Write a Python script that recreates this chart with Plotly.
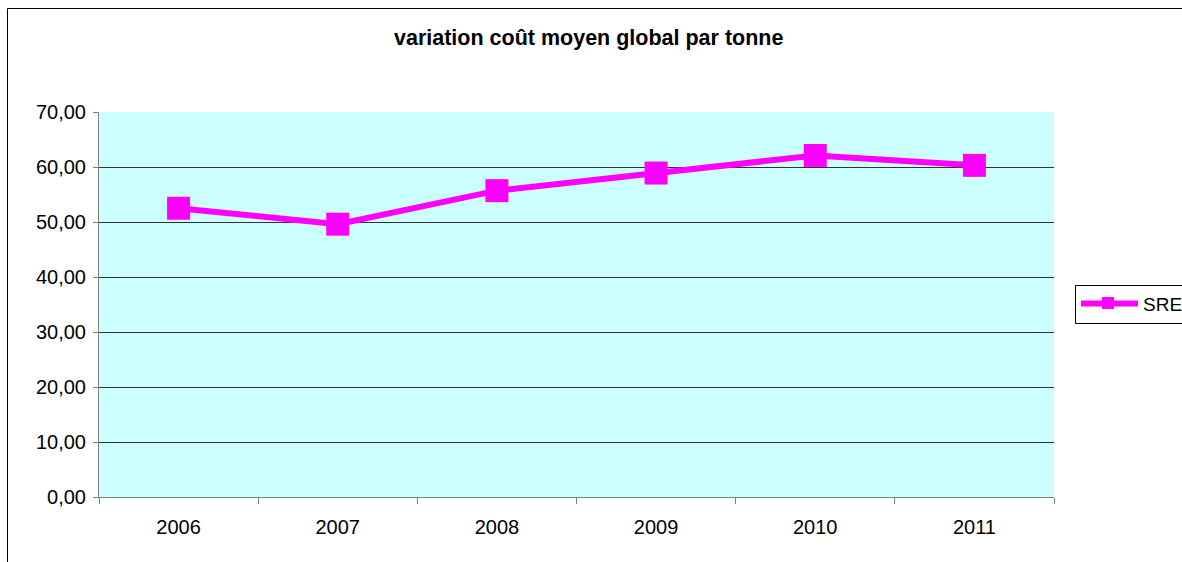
import plotly.graph_objects as go

years = ["2006", "2007", "2008", "2009", "2010", "2011"]
sre_values = [52.5, 49.6, 55.7, 58.9, 62.1, 60.3]
series_name = "SRE"
title_text = "variation coût moyen global par tonne"
y_ticks = [0, 10, 20, 30, 40, 50, 60, 70]

W, H = 1182, 562
L, R, T, B = 99, 1054, 112, 497
pw, ph = R - L, B - T

def px(x):
    return (x - L) / pw

def py(y):
    return (B - y) / ph

MAG = "#FF00FF"
FONT = "Liberation Sans, Arial, sans-serif"
FS = 20

fig = go.Figure()
fig.add_trace(go.Scatter(
    x=years, y=sre_values, mode="lines+markers", name=series_name,
    line=dict(color=MAG, width=6),
    marker=dict(symbol="square", size=23, color=MAG),
    showlegend=False,
))

shapes = [
    dict(type="rect", xref="paper", yref="paper", x0=px(7.5), y0=py(600), x1=px(1250), y1=py(8.5),
         line=dict(color="black", width=1), fillcolor="rgba(0,0,0,0)", layer="below"),
    dict(type="rect", xref="paper", yref="paper", x0=px(1075.5), y0=py(323.5), x1=px(1250), y1=py(285.5),
         line=dict(color="black", width=1), fillcolor="white"),
    dict(type="line", xref="paper", yref="paper", x0=px(1081), y0=py(303.5), x1=px(1138), y1=py(303.5),
         line=dict(color=MAG, width=6)),
    dict(type="rect", xref="paper", yref="paper", x0=px(1102), y0=py(309), x1=px(1114), y1=py(297),
         line=dict(color=MAG, width=0), fillcolor=MAG),
]

annotations = [
    dict(text="<b>" + title_text + "</b>", xref="paper", yref="paper", x=px(588), y=py(38),
         xanchor="center", yanchor="middle", showarrow=False,
         font=dict(family=FONT, size=21.5, color="black")),
    dict(text=series_name, xref="paper", yref="paper", x=px(1141), y=py(304),
         xanchor="left", yanchor="middle", showarrow=False,
         font=dict(family=FONT, size=19, color="black")),
]

fig.update_layout(
    width=W, height=H,
    margin=dict(l=L, r=W - R, t=T, b=H - B, pad=0),
    paper_bgcolor="white",
    plot_bgcolor="#CCFFFF",
    separators=", ",
    font=dict(family=FONT, size=FS, color="black"),
    shapes=shapes,
    annotations=annotations,
    showlegend=False,
    xaxis=dict(
        type="category", range=[-0.5, 5.5], tickson="boundaries",
        showline=True, linecolor="#808080", linewidth=1,
        ticks="outside", ticklen=6, tickcolor="#808080",
        showgrid=False, zeroline=False, fixedrange=True,
        tickfont=dict(size=FS), ticklabelstandoff=12,
    ),
    yaxis=dict(
        range=[0, 70], tickvals=y_ticks, tickformat=".2f",
        showline=True, linecolor="#808080", linewidth=1,
        ticks="outside", ticklen=5, tickcolor="#808080",
        showgrid=True, gridcolor="#333333", gridwidth=1,
        zeroline=False, fixedrange=True, tickfont=dict(size=FS),
        ticklabelstandoff=3,
    ),
)

fig.write_html(
    "out.html",
    config={"displayModeBar": False},
    post_script="document.body.style.margin='0';document.body.style.overflow='hidden';",
)
